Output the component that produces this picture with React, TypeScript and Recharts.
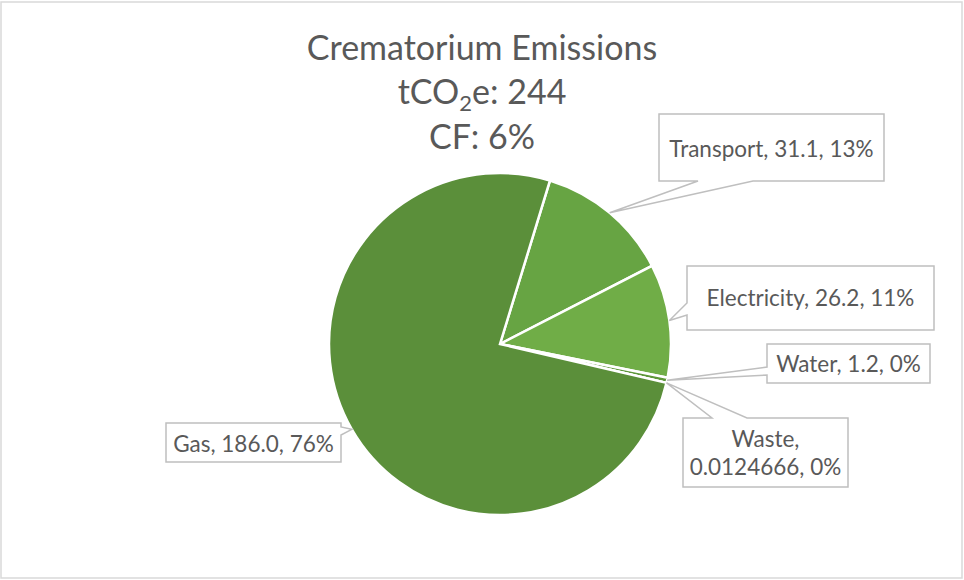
import React from 'react';
import { PieChart, Pie, Cell } from 'recharts';

// ---- data ----
const categories = ['Transport', 'Electricity', 'Water', 'Waste', 'Gas'];
const values = [31.1, 26.2, 1.2, 0.0124666, 186.0];
const valueLabels = ['31.1', '26.2', '1.2', '0.0124666', '186.0'];
const percentLabels = ['13%', '11%', '0%', '0%', '76%'];
const titleLines = ['Crematorium Emissions', 'tCO2e: 244', 'CF: 6%'];

const colors = ['#67A443', '#70AD47', '#5E973A', '#5B8F3A', '#5B8F3A'];

const data = categories.map((name, i) => ({
  name,
  value: values[i],
  valueLabel: valueLabels[i],
  pct: percentLabels[i],
}));

// ---- label box layout (callouts) ----
type Box = { x: number; y: number; w: number; h: number; side: 'top' | 'right' | 'bottom' | 'left'; a: number; b: number; lines: number[] };
const boxes: Record<string, Box> = {
  Transport: { x: 659, y: 114, w: 225, h: 67, side: 'bottom', a: 698, b: 753, lines: [157] },
  Electricity: { x: 687, y: 266, w: 247, h: 64, side: 'left', a: 303, b: 315, lines: [306] },
  Water: { x: 767, y: 344, w: 163, h: 39, side: 'left', a: 367, b: 375, lines: [372] },
  Waste: { x: 683, y: 418, w: 165, h: 69, side: 'top', a: 712, b: 747, lines: [447, 475] },
  Gas: { x: 166, y: 423, w: 175, h: 39, side: 'right', a: 427, b: 435, lines: [452] },
};

const FONT = 'Lato, "Noto Sans", sans-serif';
const TEXT = '#595959';
const RAD = Math.PI / 180;

function calloutPath(bx: Box, tx: number, ty: number) {
  const { x, y, w, h, a, b } = bx;
  const r = x + w;
  const bt = y + h;
  switch (bx.side) {
    case 'top':
      return `M${x},${y} L${a},${y} L${tx},${ty} L${b},${y} L${r},${y} L${r},${bt} L${x},${bt} Z`;
    case 'right':
      return `M${x},${y} L${r},${y} L${r},${a} L${tx},${ty} L${r},${b} L${r},${bt} L${x},${bt} Z`;
    case 'bottom':
      return `M${x},${y} L${r},${y} L${r},${bt} L${b},${bt} L${tx},${ty} L${a},${bt} L${x},${bt} Z`;
    default:
      return `M${x},${y} L${r},${y} L${r},${bt} L${x},${bt} L${x},${b} L${tx},${ty} L${x},${a} Z`;
  }
}

const renderLabel = (props: any) => {
  const { cx, cy, midAngle, outerRadius, index } = props;
  const d = data[index];
  const bx = boxes[d.name];
  if (!bx) return null;
  const tx = cx + outerRadius * Math.cos(-midAngle * RAD);
  const ty = cy + outerRadius * Math.sin(-midAngle * RAD);
  const full = `${d.name}, ${d.valueLabel}, ${d.pct}`;
  const texts = bx.lines.length === 2 ? [`${d.name},`, `${d.valueLabel}, ${d.pct}`] : [full];
  return (
    <g key={`lbl-${index}`}>
      <path d={calloutPath(bx, tx, ty)} fill="#FFFFFF" stroke="#BFBFBF" strokeWidth={1.5} strokeLinejoin="miter" />
      {texts.map((t, i) => (
        <text
          key={i}
          x={bx.x + bx.w / 2}
          y={bx.lines[i]}
          textAnchor="middle"
          fill={TEXT}
          fontFamily={FONT}
          fontSize={22.5}
        >
          {t}
        </text>
      ))}
    </g>
  );
};

export default function App() {
  return (
    <div style={{ position: 'absolute', left: 0, top: 0, width: 964, height: 580, background: '#fff' }}>
      <PieChart width={964} height={580} margin={{ top: 0, right: 0, bottom: 0, left: 0 }}>
        <Pie
          data={data}
          dataKey="value"
          nameKey="name"
          cx={500}
          cy={344}
          outerRadius={171}
          startAngle={73}
          endAngle={-287}
          stroke="#FFFFFF"
          strokeWidth={2.5}
          isAnimationActive={false}
          labelLine={false}
          label={renderLabel}
        >
          {data.map((d, i) => (
            <Cell key={d.name} fill={colors[i]} />
          ))}
        </Pie>
      </PieChart>
      <svg width={964} height={580} style={{ position: 'absolute', left: 0, top: 0, pointerEvents: 'none' }}>
        <rect x={1} y={2} width={961} height={576} fill="none" stroke="#D9D9D9" strokeWidth={1.5} />
        <text x={482} y={60} textAnchor="middle" fill={TEXT} fontFamily={FONT} fontSize={34}>
          {titleLines[0]}
        </text>
        <text x={482} y={104} textAnchor="middle" fill={TEXT} fontFamily={FONT} fontSize={34}>
          <tspan>tCO</tspan>
          <tspan fontSize={22} dy={7}>2</tspan>
          <tspan dy={-7}>{titleLines[1].slice(4)}</tspan>
        </text>
        <text x={482} y={149} textAnchor="middle" fill={TEXT} fontFamily={FONT} fontSize={34}>
          {titleLines[2]}
        </text>
      </svg>
    </div>
  );
}
